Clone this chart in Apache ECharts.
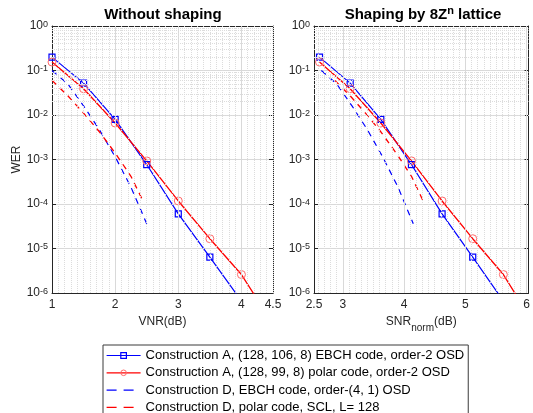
<!DOCTYPE html>
<html>
<head>
<meta charset="utf-8">
<script src="https://cdn.jsdelivr.net/npm/echarts@6/dist/echarts.min.js"></script>
<style>
  html, body { margin: 0; padding: 0; background: #fff; }
  #chart { width: 533px; height: 413px; }
</style>
</head>
<body>
<div id="chart"></div>
<script>
// ---- Word error rates versus VNR (no shaping) ----
const vnrEbchA  = [1, 1.5, 2, 2.5, 3, 3.5, 4];
const werEbchA  = [0.2, 0.052, 0.008, 7.7e-4, 6e-5, 6.4e-6, 6.6e-7];
const vnrPolarA = [1, 1.5, 2, 2.5, 3, 3.5, 4, 4.5];
const werPolarA = [0.155, 0.039, 0.0066, 9.3e-4, 1.17e-4, 1.66e-5, 2.6e-6, 2e-7];
const vnrEbchD  = [1, 1.25, 1.5, 1.75, 2, 2.25, 2.5];
const werEbchD  = [0.1, 0.05, 0.016, 4.7e-3, 1.15e-3, 2.4e-4, 3.6e-5];
const vnrPolarD = [1, 1.25, 1.5, 1.75, 2, 2.25, 2.45];
const werPolarD = [0.06, 0.027, 0.011, 4.2e-3, 1.4e-3, 4.2e-4, 1.1e-4];

// ---- Same codes with 8Z^n shaping, versus SNR_norm ----
const snrEbchA  = [2.62, 3.12, 3.62, 4.12, 4.62, 5.12, 5.62];
const snrPolarA = [2.62, 3.12, 3.62, 4.12, 4.62, 5.12, 5.62, 6.12];
const snrEbchD  = [2.65, 2.9, 3.15, 3.4, 3.65, 3.9, 4.15];
const snrPolarD = [2.87, 3.12, 3.37, 3.62, 3.87, 4.12, 4.32];

// ---- Axis ticks ----
const vnrTicks = [1, 2, 3, 4, 4.5];
const vnrTickLabels = ['1', '2', '3', '4', '4.5'];
const snrTicks = [2.53, 3, 4, 5, 6];
const snrTickLabels = ['2.5', '3', '4', '5', '6'];

const seriesNames = [
  'Construction A, (128, 106, 8) EBCH code, order-2 OSD',
  'Construction A, (128, 99, 8) polar code, order-2 OSD',
  'Construction D, EBCH code, order-(4, 1) OSD',
  'Construction D, polar code, SCL, L= 128'
];

const FONT = 'Liberation Sans, Arial, Helvetica, sans-serif';
const INK = '#262626';
const BLUE = '#0000ff';
const RED = '#ff0000';
const RED_MARK = '#ff6a6a';
const MAJOR_GRID = '#d9d9d9';
const MINOR_GRID = '#dcdcdc';

const zip = (xs, ys) => xs.map((x, i) => [x, ys[i]]);

// Grid lines: major verticals at labelled ticks, dotted minor lines at 0.1 dB
// and at 2..9 x 10^k in WER.
function gridLines(xMin, xMax, majors) {
  const lines = [];
  const start = Math.ceil(xMin * 10 + 1e-6);
  const end = Math.floor(xMax * 10 + 1e-6);
  for (let k = start; k <= end; k++) {
    const v = k / 10;
    const isMajor = majors.some(m => Math.abs(m - v) < 1e-6);
    lines.push({
      xAxis: v,
      lineStyle: isMajor
        ? { color: MAJOR_GRID, type: 'solid', width: 1 }
        : { color: MINOR_GRID, type: 'dotted', width: 1 }
    });
  }
  for (let e = -6; e < 0; e++) {
    for (let m = 2; m <= 9; m++) {
      lines.push({ yAxis: m * Math.pow(10, e), lineStyle: { color: MINOR_GRID, type: 'dotted', width: 1 } });
    }
  }
  return lines;
}

function gridSeries(ax, xMin, xMax, majors) {
  return {
    type: 'line', xAxisIndex: ax, yAxisIndex: ax, data: [], z: 1, silent: true,
    emphasis: { disabled: true },
    markLine: {
      silent: true, animation: false, symbol: ['none', 'none'],
      label: { show: false }, emphasis: { disabled: true },
      data: gridLines(xMin, xMax, majors)
    }
  };
}

function bottomAxis(gi, min, max, ticks, labels, name, nameGap, nameStyle) {
  return {
    gridIndex: gi, type: 'value', min, max, position: 'bottom',
    axisLine: { show: true, onZero: false, lineStyle: { color: INK, width: 1 } },
    axisTick: { show: true, inside: true, length: 4, customValues: ticks, lineStyle: { color: INK } },
    axisLabel: {
      customValues: ticks,
      formatter: v => labels[ticks.findIndex(t => Math.abs(t - v) < 1e-6)],
      color: INK, fontSize: 12, fontFamily: FONT, margin: 6
    },
    splitLine: { show: false },
    name, nameLocation: 'middle', nameGap, nameTextStyle: nameStyle
  };
}

function topAxis(gi, min, max, ticks) {
  return {
    gridIndex: gi, type: 'value', min, max, position: 'top',
    axisLine: { show: true, onZero: false, lineStyle: { color: INK, width: 1 } },
    axisTick: { show: true, inside: true, length: 4, customValues: ticks, lineStyle: { color: INK } },
    axisLabel: { show: false },
    splitLine: { show: false }
  };
}

function werAxis(gi, withName) {
  const ax = {
    gridIndex: gi, type: 'log', logBase: 10, min: 1e-6, max: 1, splitNumber: 6,
    position: 'left',
    axisLine: { show: true, onZero: false, lineStyle: { color: INK, width: 1 } },
    axisTick: { show: true, inside: true, length: 4, lineStyle: { color: INK } },
    axisLabel: {
      margin: 4, color: INK, fontFamily: FONT,
      formatter: v => '{b|10}{s|' + Math.round(Math.log10(v)) + '}',
      rich: {
        b: { fontSize: 12, lineHeight: 12, verticalAlign: 'bottom', color: INK, fontFamily: FONT },
        s: { fontSize: 9, lineHeight: 9, padding: [0, 0, 5, 0], verticalAlign: 'top', color: INK, fontFamily: FONT }
      }
    },
    splitLine: { show: true, lineStyle: { color: MAJOR_GRID, width: 1 } }
  };
  if (withName) {
    ax.name = 'WER';
    ax.nameLocation = 'middle';
    ax.nameGap = 29;
    ax.nameTextStyle = { fontSize: 12, color: INK, fontFamily: FONT };
  }
  return ax;
}

function werAxisRight(gi) {
  return {
    gridIndex: gi, type: 'log', logBase: 10, min: 1e-6, max: 1, splitNumber: 6,
    position: 'right',
    axisLine: { show: true, onZero: false, lineStyle: { color: INK, width: 1 } },
    axisTick: { show: true, inside: true, length: 4, lineStyle: { color: INK } },
    axisLabel: { show: false },
    splitLine: { show: false }
  };
}

const squareStyle = { color: 'rgba(255,255,255,0)', borderColor: BLUE, borderWidth: 1.2 };
const circleStyle = { color: 'rgba(255,255,255,0)', borderColor: RED_MARK, borderWidth: 1 };
// Dashed curves carry no markers: their item style keeps the series colour but is fully transparent.
const hiddenBlue = { color: BLUE, opacity: 0, borderWidth: 0 };
const hiddenRed = { color: RED, opacity: 0, borderWidth: 0 };

const styleEbchA = {
  type: 'line', symbol: 'rect', symbolSize: 6, z: 3, clip: true,
  lineStyle: { color: BLUE, width: 1.2 },
  itemStyle: squareStyle,
  emphasis: { disabled: true }
};
const stylePolarA = {
  type: 'line', symbol: 'circle', symbolSize: 8, z: 3, clip: true,
  lineStyle: { color: RED, width: 1.3 },
  itemStyle: circleStyle,
  emphasis: { disabled: true }
};
const styleEbchD = {
  type: 'line', showSymbol: false, symbol: 'circle', symbolSize: 0, z: 3, clip: true,
  lineStyle: { color: BLUE, width: 1.2, type: [6, 5], opacity: 1 },
  itemStyle: hiddenBlue,
  emphasis: { disabled: true }
};
const stylePolarD = {
  type: 'line', showSymbol: false, symbol: 'circle', symbolSize: 0, z: 3, clip: true,
  lineStyle: { color: RED, width: 1.3, type: [6, 5], opacity: 1 },
  itemStyle: hiddenRed,
  emphasis: { disabled: true }
};

function curves(ax, xs) {
  return [
    Object.assign({}, styleEbchA,  { name: seriesNames[0], xAxisIndex: ax, yAxisIndex: ax, data: zip(xs[0], werEbchA) }),
    Object.assign({}, stylePolarA, { name: seriesNames[1], xAxisIndex: ax, yAxisIndex: ax, data: zip(xs[1], werPolarA) }),
    Object.assign({}, styleEbchD,  { name: seriesNames[2], xAxisIndex: ax, yAxisIndex: ax, data: zip(xs[2], werEbchD) }),
    Object.assign({}, stylePolarD, { name: seriesNames[3], xAxisIndex: ax, yAxisIndex: ax, data: zip(xs[3], werPolarD) })
  ];
}

const chart = echarts.init(document.getElementById('chart'), null, { renderer: 'canvas' });

chart.setOption({
  animation: false,
  backgroundColor: '#ffffff',
  textStyle: { fontFamily: FONT },
  grid: [
    { left: 52, top: 26, width: 221, height: 267 },
    { left: 314, top: 26, width: 218, height: 267 }
  ],
  xAxis: [
    bottomAxis(0, 1, 4.5, vnrTicks, vnrTickLabels, 'VNR(dB)', 20,
      { fontSize: 12, color: INK, fontFamily: FONT }),
    bottomAxis(1, 2.53, 6.03, snrTicks, snrTickLabels, '{n|SNR}{sub|norm}{n|(dB)}', 8,
      {
        fontSize: 12, color: INK, fontFamily: FONT,
        rich: {
          n: { fontSize: 12, lineHeight: 14, verticalAlign: 'top', color: INK, fontFamily: FONT },
          sub: { fontSize: 10, lineHeight: 10, padding: [7, 0, 0, 0], verticalAlign: 'top', color: INK, fontFamily: FONT }
        }
      }),
    topAxis(0, 1, 4.5, vnrTicks),
    topAxis(1, 2.53, 6.03, snrTicks)
  ],
  yAxis: [
    werAxis(0, true),
    werAxis(1, false),
    werAxisRight(0),
    werAxisRight(1)
  ],
  legend: {
    orient: 'vertical', left: 103, top: 345, height: 120,
    itemWidth: 34, itemHeight: 7, itemGap: 2.3,
    padding: [3, 4, 8, 3],
    borderColor: '#3a3a3a', borderWidth: 1, backgroundColor: '#ffffff',
    textStyle: { fontSize: 13, lineHeight: 15, color: '#000', fontFamily: FONT },
    data: [
      { name: seriesNames[0], lineStyle: { color: BLUE, width: 1.2, type: 'solid' }, itemStyle: squareStyle },
      { name: seriesNames[1], lineStyle: { color: RED, width: 1.2, type: 'solid' }, itemStyle: circleStyle },
      { name: seriesNames[2], lineStyle: { color: BLUE, width: 1.2, type: [10, 7], opacity: 1 }, itemStyle: hiddenBlue },
      { name: seriesNames[3], lineStyle: { color: RED, width: 1.2, type: [10, 7], opacity: 1 }, itemStyle: hiddenRed }
    ]
  },
  graphic: [
    {
      type: 'text', x: 163, y: 14.5, silent: true,
      style: {
        text: 'Without shaping', fill: '#000',
        font: 'bold 15px ' + FONT, align: 'center', verticalAlign: 'middle'
      }
    },
    {
      type: 'text', x: 423, y: 14.5, silent: true,
      style: {
        text: '{m|Shaping by 8Z}{p|n}{m| lattice}', fill: '#000',
        font: 'bold 15px ' + FONT, align: 'center', verticalAlign: 'middle',
        rich: {
          m: { fontSize: 15, fontWeight: 'bold', lineHeight: 18, fontFamily: FONT, fill: '#000' },
          p: { fontSize: 11, fontWeight: 'bold', lineHeight: 11, verticalAlign: 'top', fontFamily: FONT, fill: '#000' }
        }
      }
    }
  ],
  series: [
    gridSeries(0, 1, 4.5, [2, 3, 4]),
    gridSeries(1, 2.53, 6.03, [3, 4, 5, 6]),
    ...curves(0, [vnrEbchA, vnrPolarA, vnrEbchD, vnrPolarD]),
    ...curves(1, [snrEbchA, snrPolarA, snrEbchD, snrPolarD])
  ]
});
</script>
</body>
</html>
